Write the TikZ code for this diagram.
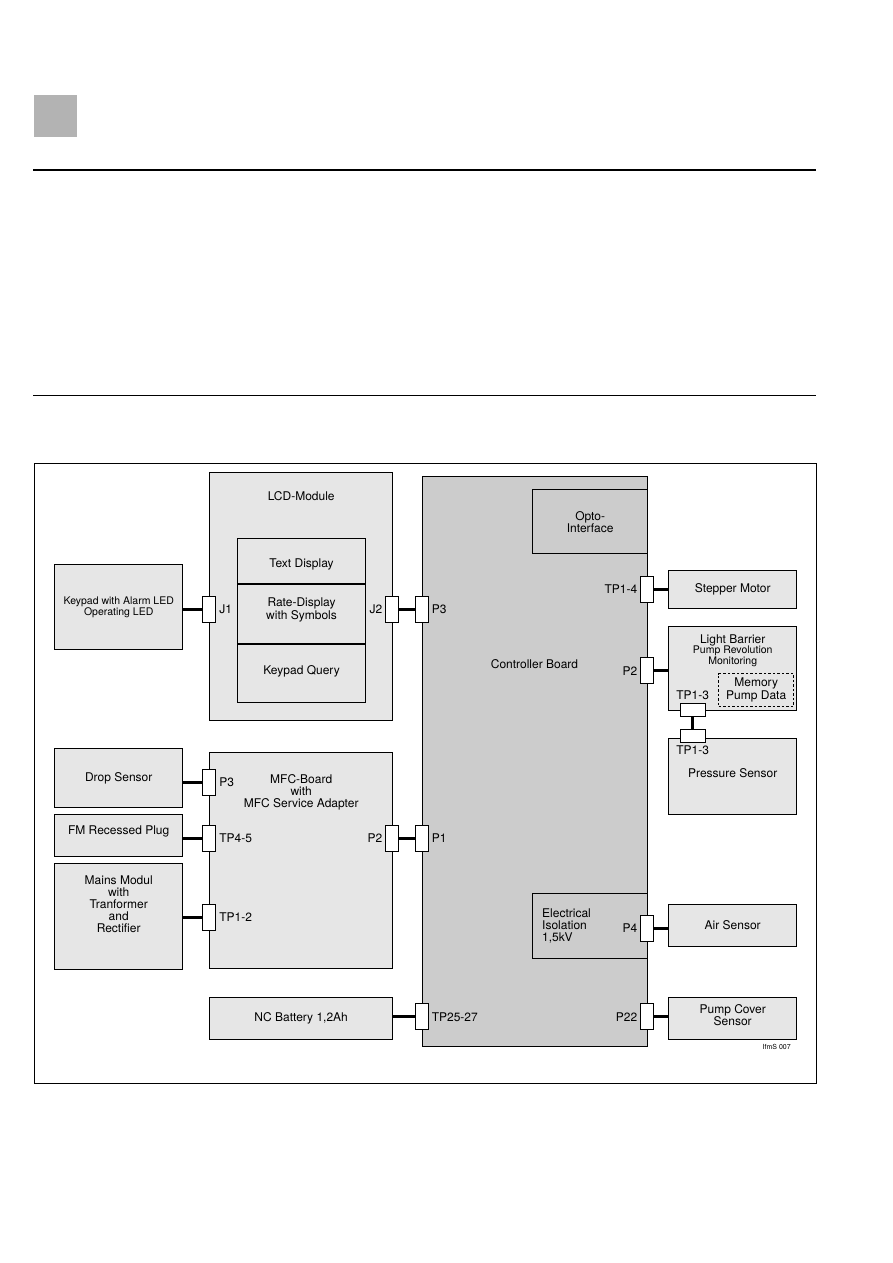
\documentclass[tikz,border=0pt]{standalone}
\usepackage{fontspec}
\setmainfont{TeX Gyre Heros}
\usetikzlibrary{positioning}
\definecolor{boxgray}{HTML}{E6E6E6}
\definecolor{boardgray}{HTML}{CCCCCC}
\definecolor{tabgray}{HTML}{B3B3B3}
\newcommand\fsz[2]{\fontsize{#1}{#2}\selectfont}

\begin{document}
\begin{tikzpicture}[x=1pt, y=-1pt,
  blk/.style={draw, line width=0.8pt, fill=boxgray, anchor=north west, inner sep=0pt, align=center, font=\fsz{12}{12}},
  txt/.style={inner sep=0pt, align=center, font=\fsz{12}{12}},
  pinv/.style={draw, line width=0.8pt, fill=white, minimum width=13pt, minimum height=26pt, inner sep=0pt},
  pinh/.style={draw, line width=0.8pt, fill=white, minimum width=25pt, minimum height=13pt, inner sep=0pt},
  lbl/.style={font=\fsz{12}{12}, inner sep=3pt},
  wire/.style={line width=3pt},
]
\useasboundingbox (0,0) rectangle (893,1263);
\fill[tabgray] (34,95) rectangle (77,137);
\draw[line width=2.2pt] (33,170) -- (816,170);
\draw[line width=1pt] (33,395) -- (816,395);
\draw[line width=0.9pt] (34,463) rectangle (816,1083);

\node[blk, minimum width=128pt, minimum height=85pt, font=\fsz{10.5}{10.7}] (keypad) at (54.3,564.3) {Keypad with Alarm LED\\Operating LED};
\node[blk, minimum width=183pt, minimum height=247.7pt] (lcd) at (209.3,472.3) {};
\node[txt, below=19pt of lcd.north] (lcdtitle) {LCD-Module};
\node[blk, minimum width=127.7pt, minimum height=45pt, label={[txt, yshift=-3pt]center:Text Display}] (txtdisp) at (237.3,538.3) {};
\node[blk, minimum width=127.7pt, minimum height=59pt, label={[txt, yshift=4pt, font=\fsz{12}{11.5}]center:Rate-Display\\with Symbols}] (ratedisp) at (txtdisp.south west) {};
\node[blk, minimum width=127.7pt, minimum height=57.7pt, label={[txt, yshift=2pt]center:Keypad Query}] (kpquery) at (ratedisp.south west) {};

\node[blk, minimum width=225.6pt, minimum height=570pt, fill=boardgray] (ctrl) at (421.7,476) {};
\node[txt] (ctrltxt) at (534.5,664) {Controller Board};
\node[blk, fill=boardgray, minimum width=115pt, minimum height=64pt] (opto) at (532.3,489.3) {Opto-\\Interface};
\node[blk, fill=boardgray, minimum width=115pt, minimum height=65pt, text width=96pt, inner xsep=9.5pt, align=left] (iso) at (532.3,893.3) {Electrical\\Isolation\\1,5kV};

\node[blk, minimum width=128pt, minimum height=38pt] (stepper) at (668.3,570) {Stepper Motor};
\node[blk, minimum width=128pt, minimum height=84.3pt] (light) at (668.3,625.7) {};
\node[txt, font=\fsz{12}{10.5}, below=8.5pt of light.north] (lighttxt) {Light Barrier\\\fsz{10.5}{10.5}Pump Revolution\\\fsz{10.5}{10.5}Monitoring};
\node[blk, dashed, dash pattern=on 2.5pt off 2pt, minimum width=75pt, minimum height=32.4pt, font=\fsz{12}{12.3}] (memory) at (718.3,673.3) {Memory\\Pump Data};
\node[blk, minimum width=128pt, minimum height=75.7pt, label={[txt, yshift=3pt]center:Pressure Sensor}] (pressure) at (668.3,738.3) {};
\node[blk, minimum width=128pt, minimum height=42pt] (air) at (668.3,904) {Air Sensor};
\node[blk, minimum width=128pt, minimum height=42.6pt, label={[txt, yshift=3.5pt]center:Pump Cover\\Sensor}] (cover) at (668.3,996.7) {};

\node[blk, minimum width=128pt, minimum height=59pt] (drop) at (54.3,748.3) {Drop Sensor};
\node[blk, minimum width=128pt, minimum height=41.7pt, label={[txt, yshift=4pt]center:FM Recessed Plug}] (fmplug) at (54.3,814.3) {};
\node[blk, minimum width=128pt, minimum height=105.7pt, label={[txt, yshift=12.5pt]center:Mains Modul\\with\\Tranformer\\and\\Rectifier}] (mains) at (54.3,863.3) {};
\node[blk, minimum width=183pt, minimum height=216.6pt] (mfc) at (209.3,751.7) {};
\node[txt, font=\fsz{12}{11.8}, below=23pt of mfc.north] (mfctxt) {MFC-Board\\with\\MFC Service Adapter};
\node[blk, minimum width=183pt, minimum height=42.3pt] (battery) at (209.3,996.7) {NC Battery 1,2Ah};

\node[pinv, label={[lbl]right:J1}] (j1) at (209.3,609) {};
\node[pinv, label={[lbl]left:J2}] (j2) at (392.3,609) {};
\node[pinv, label={[lbl]right:P3}] (p3c) at (421.7,609) {};
\node[pinv, label={[lbl]left:TP1-4}] (tp14) at (647.3,589.3) {};
\node[pinv, label={[lbl]left:P2}] (p2c) at (647.3,670.8) {};
\node[pinh, label={[lbl]above:TP1-3}] (tp13a) at (692.7,710) {};
\node[pinh, label={[lbl]below:TP1-3}] (tp13b) at (692.7,736) {};
\node[pinv, label={[lbl]left:P4}] (p4) at (647.3,928.3) {};
\node[pinv, label={[lbl]left:P22}] (p22) at (647.3,1016.8) {};
\node[pinv, label={[lbl]right:P1}] (p1) at (421.7,838) {};
\node[pinv, label={[lbl]right:TP25-27}] (tp2527) at (421.7,1016.8) {};
\node[pinv, label={[lbl]left:P2}] (p2m) at (392.3,838) {};
\node[pinv, label={[lbl]right:P3}] (p3m) at (209.3,782.3) {};
\node[pinv, label={[lbl]right:TP4-5}] (tp45) at (209.3,838) {};
\node[pinv, label={[lbl]right:TP1-2}] (tp12) at (209.3,917.2) {};

\draw[wire] (keypad.east |- j1) -- (j1.west);
\draw[wire] (j2.east) -- (p3c.west);
\draw[wire] (tp14.east) -- (stepper.west |- tp14);
\draw[wire] (p2c.east) -- (light.west |- p2c);
\draw[wire] (tp13a.south) -- (tp13b.north);
\draw[wire] (p4.east) -- (air.west |- p4);
\draw[wire] (p22.east) -- (cover.west |- p22);
\draw[wire] (p2m.east) -- (p1.west);
\draw[wire] (battery.east |- tp2527) -- (tp2527.west);
\draw[wire] (drop.east |- p3m) -- (p3m.west);
\draw[wire] (fmplug.east |- tp45) -- (tp45.west);
\draw[wire] (mains.east |- tp12) -- (tp12.west);

\node[font=\fsz{7}{7}] (figref) at (776.7,1047.3) {IfmS 007};
\end{tikzpicture}
\end{document}
